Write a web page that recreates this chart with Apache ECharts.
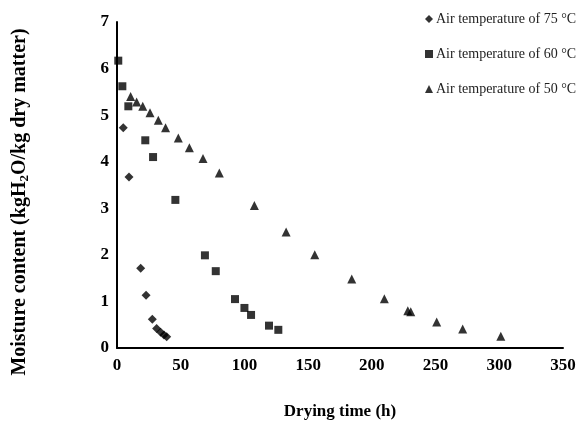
<!DOCTYPE html>
<html>
<head>
<meta charset="utf-8">
<script src="https://cdn.jsdelivr.net/npm/echarts@6/dist/echarts.min.js"></script>
<style>html,body{margin:0;padding:0;background:#fff;}#c{width:581px;height:425px;}</style>
</head>
<body>
<div id="c"></div>
<script>
// Drying time (h) and moisture content (kg H2O / kg dry matter)
var t75 = [4.9, 9.4, 18.6, 22.8, 27.7, 31.1, 34.3, 36.9, 39.0];
var m75 = [4.73, 3.67, 1.71, 1.13, 0.62, 0.42, 0.34, 0.28, 0.24];

var t60 = [1.0, 4.2, 8.9, 22.2, 28.3, 45.8, 69.0, 77.5, 92.6, 100.0, 105.2, 119.3, 126.6];
var m60 = [6.17, 5.62, 5.19, 4.46, 4.10, 3.18, 1.99, 1.65, 1.05, 0.86, 0.71, 0.48, 0.39];

var t50 = [10.7, 15.4, 20.2, 25.9, 32.4, 38.1, 48.1, 56.8, 67.5, 80.3, 107.8, 132.7, 155.2, 184.2, 209.8, 228.2, 230.5, 250.9, 271.3, 301.2];
var m50 = [5.40, 5.28, 5.19, 5.05, 4.89, 4.73, 4.51, 4.30, 4.07, 3.76, 3.06, 2.49, 2.00, 1.48, 1.06, 0.80, 0.78, 0.56, 0.41, 0.25];

var seriesNames = ['Air temperature of 75 °C', 'Air temperature of 60 °C', 'Air temperature of 50 °C'];
var xTicks = [0, 50, 100, 150, 200, 250, 300, 350];
var yTicks = [0, 1, 2, 3, 4, 5, 6, 7];

function pairs(xs, ys) { return xs.map(function (x, i) { return [x, ys[i]]; }); }

var serif = '"Liberation Serif", "Times New Roman", serif';
var chart = echarts.init(document.getElementById('c'));
chart.setOption({
  animation: false,
  backgroundColor: '#fff',
  grid: { left: 117, right: 18, top: 22, bottom: 76 },
  legend: {
    orient: 'vertical',
    left: 420,
    top: 7,
    itemWidth: 8,
    itemHeight: 8,
    itemGap: 21,
    textStyle: { fontFamily: serif, fontSize: 14, color: '#222', padding: [0, 0, 0, -2] },
    data: [
      { name: seriesNames[0], icon: 'diamond' },
      { name: seriesNames[1], icon: 'rect' },
      { name: seriesNames[2], icon: 'triangle' }
    ]
  },
  xAxis: {
    type: 'value',
    min: xTicks[0], max: xTicks[xTicks.length - 1], interval: 50,
    name: 'Drying time (h)',
    nameLocation: 'middle',
    nameGap: 55,
    nameTextStyle: { fontFamily: serif, fontSize: 17, fontWeight: 'bold', color: '#000' },
    axisLine: { show: true, lineStyle: { color: '#000', width: 2 } },
    axisTick: { show: false },
    splitLine: { show: false },
    axisLabel: { fontFamily: serif, fontSize: 17, fontWeight: 'bold', color: '#000', margin: 9 }
  },
  yAxis: {
    type: 'value',
    min: yTicks[0], max: yTicks[yTicks.length - 1], interval: 1,
    name: '{a|Moisture content (kgH}{s|2}{a|O/kg dry matter)}',
    nameLocation: 'middle',
    nameGap: 86,
    nameTextStyle: {
      fontFamily: serif, fontSize: 20, fontWeight: 'bold', color: '#000',
      padding: [0, 34, 0, 0],
      rich: {
        a: { fontFamily: serif, fontSize: 20, fontWeight: 'bold', color: '#000' },
        s: { fontFamily: serif, fontSize: 13, fontWeight: 'bold', color: '#000', padding: [9, 0, 0, 0] }
      }
    },
    axisLine: { show: true, lineStyle: { color: '#000', width: 2 } },
    axisTick: { show: false },
    splitLine: { show: false },
    axisLabel: { fontFamily: serif, fontSize: 17, fontWeight: 'bold', color: '#000', margin: 8 }
  },
  series: [
    { name: seriesNames[0], type: 'scatter', symbol: 'diamond', symbolSize: 9, itemStyle: { color: '#000' }, data: pairs(t75, m75) },
    { name: seriesNames[1], type: 'scatter', symbol: 'rect', symbolSize: 8, itemStyle: { color: '#000' }, data: pairs(t60, m60) },
    { name: seriesNames[2], type: 'scatter', symbol: 'triangle', symbolSize: 9, itemStyle: { color: '#000' }, data: pairs(t50, m50) }
  ]
});
</script>
</body>
</html>
